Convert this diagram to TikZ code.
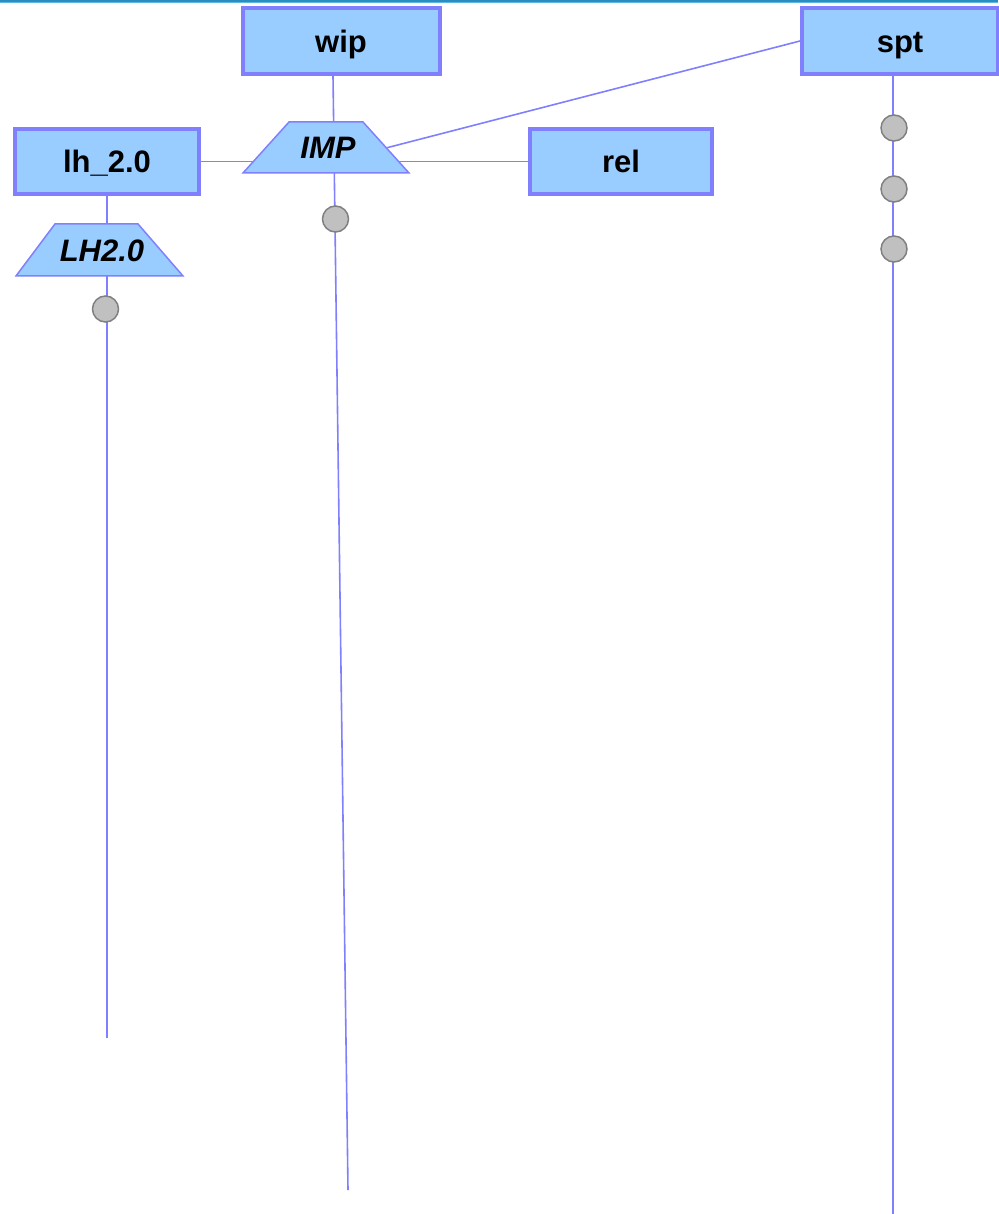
\documentclass[tikz,border=0pt]{standalone}
\usepackage{fontspec}
\setmainfont{Liberation Sans}
\usetikzlibrary{calc,backgrounds}
\definecolor{boxfill}{HTML}{99CCFF}
\definecolor{boxline}{HTML}{8080FF}
\definecolor{dotfill}{HTML}{C0C0C0}
\definecolor{dotline}{HTML}{808080}
\definecolor{bandA}{HTML}{2A8CBF}
\definecolor{bandB}{HTML}{5DB8E3}
\tikzset{
  boxnode/.style={draw=boxline, fill=boxfill, line width=4pt, inner sep=0pt,
    text height=23pt, text depth=0pt,
    font=\fontsize{31}{36}\selectfont\bfseries},
  trapnode/.style={inner sep=0pt, text height=23pt, text depth=0pt,
    font=\fontsize{31}{36}\selectfont\bfseries\itshape},
  trapshape/.style={draw=boxline, fill=boxfill, line width=1.5pt, line join=miter},
  wire/.style={draw=boxline, line width=1.6pt},
  dotnode/.style={circle, draw=dotline, fill=dotfill, line width=1.5pt, minimum size=26pt, inner sep=0pt}
}
\begin{document}
\begin{tikzpicture}[x=1pt,y=-1pt]
\useasboundingbox (0,0) rectangle (998,1214);
\fill[bandA] (0,0) rectangle (998,1.6);
\fill[bandB] (0,1.6) rectangle (998,3);

% boxes
\node[boxnode, minimum width=197pt, minimum height=66pt] (wip) at (341,41) {wip};
\node[boxnode, minimum width=196pt, minimum height=66pt] (spt) at (900,41) {spt};
\node[boxnode, minimum width=184pt, minimum height=65pt] (lh) at (107,161.5) {lh\_2.0};
\node[boxnode, minimum width=182pt, minimum height=65pt] (rel) at (621,161.5) {rel};

% trapezoids
\path[trapshape] (243,173) -- (409,173) -- (363,122) -- (289,122) -- cycle;
\node[trapnode] (imp) at (328,147.5) {IMP};
\path[trapshape] (16,276) -- (183,276) -- (138,224) -- (55,224) -- cycle;
\node[trapnode] (lhtwo) at (102,250) {LH2.0};

% ends
\coordinate (impend) at (348,1190);
\coordinate (lhend) at (107,1038);
\coordinate (sptend) at (893,1214);

% dots
\node[dotnode] (d1) at (335.5,219) {};
\node[dotnode] (d2) at (105.5,309) {};
\node[dotnode] (d3) at (894,128) {};
\node[dotnode] (d4) at (894,189) {};
\node[dotnode] (d5) at (894,249) {};

\begin{scope}[on background layer]
  \draw[wire] ($(wip.south)+(-8,0)$) -- (impend);
  \draw[wire] (lh.south) -- (lhend);
  \draw[wire] ($(spt.south)+(-7,0)$) -- (sptend);
  \draw[wire] (lh.east) -- (rel.west);
  \draw[wire] (spt.west) -- ($(imp.center)+(-2,16)$);
\end{scope}
\end{tikzpicture}
\end{document}
